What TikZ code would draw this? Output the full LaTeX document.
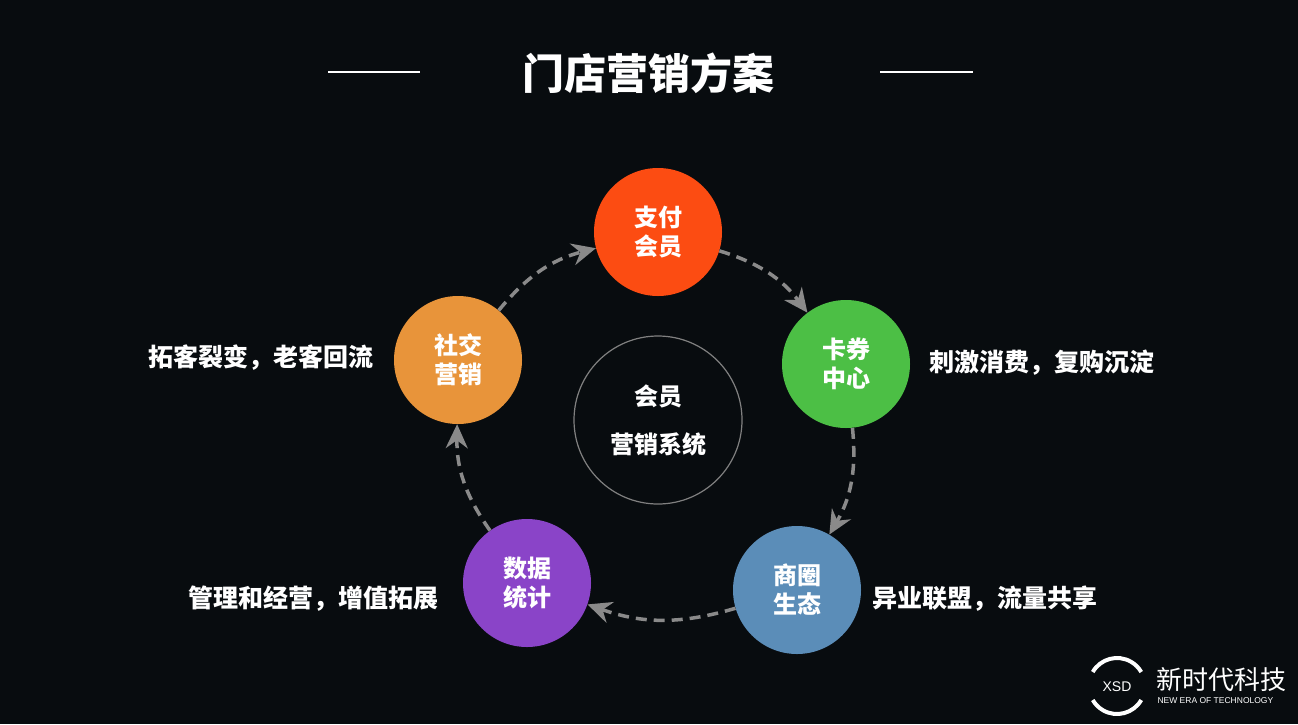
\documentclass[tikz,border=0pt]{standalone}
\usepackage{fontspec}
\setmainfont{Noto Sans CJK SC}
\setsansfont{Liberation Sans}
\usetikzlibrary{arrows.meta}
\definecolor{bg}{HTML}{080C0F}
\definecolor{cpay}{HTML}{FC4C12}
\definecolor{ccard}{HTML}{4CBF45}
\definecolor{cbiz}{HTML}{5B8DB8}
\definecolor{cdata}{HTML}{8A44C8}
\definecolor{csoc}{HTML}{E8943A}
\definecolor{cflow}{HTML}{8A8A8A}
\tikzset{
  ball/.style={circle, minimum size=128pt, inner sep=0pt, text=white, font=\fontsize{24pt}{29pt}\selectfont\bfseries, align=center},
  flow/.style={draw=cflow, line width=3.5pt, dash pattern=on 11pt off 7pt, -{Stealth[length=24pt,width=22pt,inset=8pt]}},
  note/.style={text=white, font=\fontsize{25pt}{30pt}\selectfont\bfseries}
}
\begin{document}
\begin{tikzpicture}[x=1pt,y=-1pt]
			\fill[bg] (0,0) rectangle (1298,724);
			\useasboundingbox (0,0) rectangle (1298,724);
			% title
			\node[text=white, font=\fontsize{42pt}{48pt}\selectfont\bfseries] (title) at (648,73) {门店营销方案};
			\draw[white, line width=1.5pt] (328,72) -- (420,72);
			\draw[white, line width=1.5pt] (880,72) -- (973,72);
			% centre
			\node[circle, draw=gray, line width=1.2pt, minimum size=168pt, text=white, align=center, font=\fontsize{24pt}{48pt}\selectfont\bfseries] (core) at (658,420) {会员\\营销系统};
			% stations
			\node[ball, fill=cpay] (pay) at (658,232) {支付\\会员};
			\node[ball, fill=ccard] (card) at (846,364) {卡券\\中心};
			\node[ball, fill=cbiz] (biz) at (797,590) {商圈\\生态};
			\node[ball, fill=cdata] (data) at (527,583) {数据\\统计};
			\node[ball, fill=csoc] (soc) at (458,360) {社交\\营销};
			\draw[flow] (pay) to[bend left=18] (card);
			\draw[flow] (card) to[bend left=18] (biz);
			\draw[flow] (biz) to[bend left=18] (data);
			\draw[flow] (data) to[bend left=18] (soc);
			\draw[flow] (soc) to[bend left=18] (pay);
			% notes
			\node[note, anchor=east] (nsoc) at (377,358) {拓客裂变，老客回流};
			\node[note, anchor=west] (ncard) at (926,363) {刺激消费，复购沉淀};
			\node[note, anchor=west] (nbiz) at (869,599) {异业联盟，流量共享};
			\node[note, anchor=east] (ndata) at (442,599) {管理和经营，增值拓展};
			% logo
			\draw[white, line width=4pt] (1117,686) ++(30:28) arc (30:150:28);
			\draw[white, line width=4pt] (1117,686) ++(210:28) arc (210:330:28);
			\node[text=white, font=\sffamily\fontsize{14pt}{14pt}\selectfont] (xsd) at (1117,687) {XSD};
			\node[text=white, anchor=west, font=\fontsize{26pt}{28pt}\selectfont] (brand) at (1153,680) {新时代科技};
			\node[text=white, anchor=west, font=\sffamily\fontsize{8.5pt}{9pt}\selectfont] (slogan) at (1154,701) {NEW ERA OF TECHNOLOGY};
\end{tikzpicture}
\end{document}
